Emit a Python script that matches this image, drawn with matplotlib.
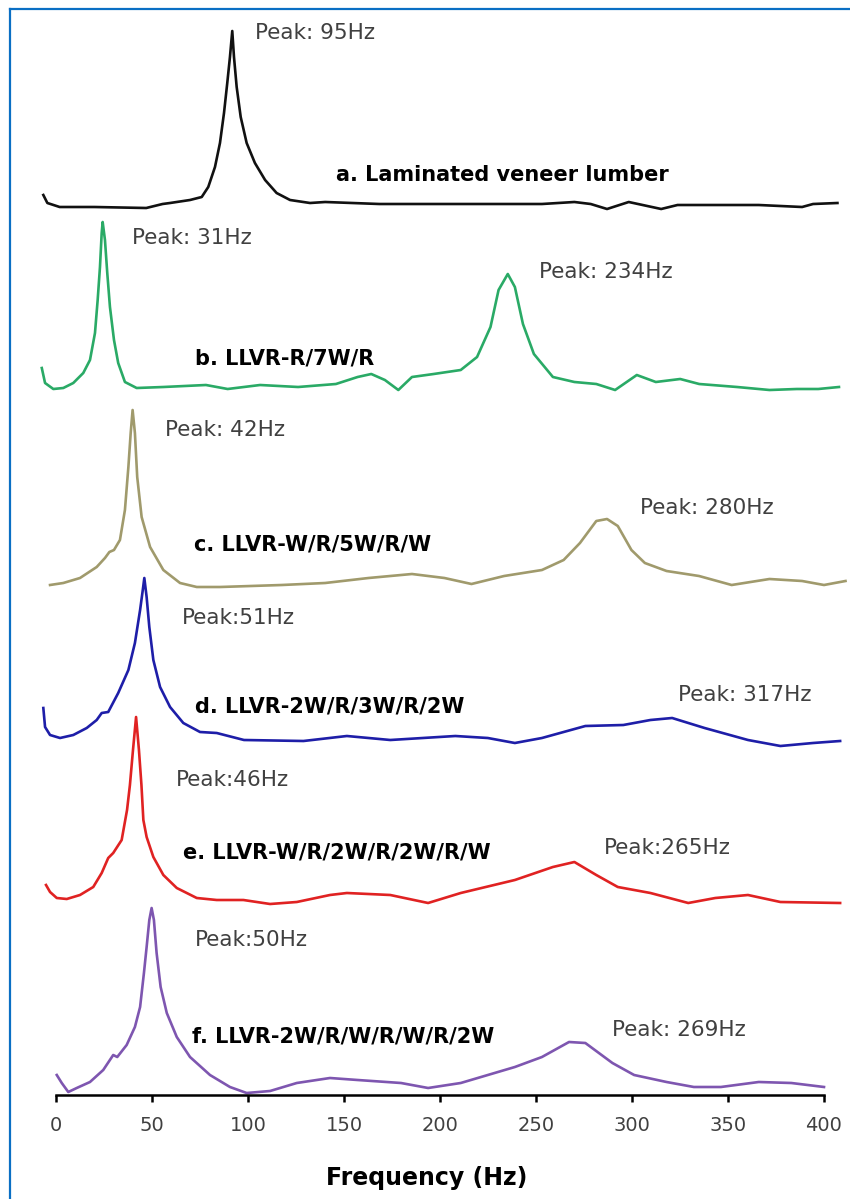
import matplotlib
matplotlib.use("Agg")
import matplotlib.pyplot as plt
from matplotlib.lines import Line2D

# ---- data (frequency in Hz, relative amplitude) ----
freq_a = [-6.6, -4.5, 1.9, 20, 47, 55.5, 59.4, 69.8, 75.9, 79.3, 82.8, 85.4, 87.5, 89.2, 90.6, 91.8,
          92.7, 94.1, 96.2, 99.3, 103.6, 108.9, 114.9, 121.9, 132.3, 140.2, 168.4, 196.7, 224.9,
          253.1, 270, 278.5, 287, 298.3, 315.2, 323.7, 366, 388.6, 394.3, 407]
amp_a = [12, 4, 0, 0, -1, 3, 4, 7, 10, 20, 40, 64, 94, 124, 150, 176,
         150, 120, 90, 64, 44, 27, 14, 7, 4, 5, 3, 3, 3,
         3, 5, 3, -2, 5, -2, 2, 2, 0, 3, 4]

freq_b = [-7.4, -5.7, -1.4, 3.8, 9.0, 14.2, 17.7, 20.3, 21.7, 22.9, 23.8, 24.3, 25.5, 26.7, 28.1,
          30.2, 32.4, 35.9, 42.0, 55.9, 78.1, 89.4, 106.3, 126.1, 145.8, 157.1, 164.2, 171.3,
          178.3, 185.4, 196.7, 210.8, 219.3, 226.3, 230.5, 235.3, 239, 243.2, 248.9, 258.8,
          270, 281.4, 291.2, 302.5, 312.4, 325.1, 335, 354.7, 371.6, 385.8, 397, 407.8]
amp_b = [19, 4, -2, -1, 4, 14, 27, 54, 87, 120, 154, 165, 147, 114, 80,
         47, 24, 5, -1, 0, 2, -2, 2, 0, 3, 10, 13, 7,
         -3, 10, 13, 17, 30, 60, 97, 113, 100, 63, 33, 10,
         5, 3, -3, 12, 5, 8, 3, 0, -3, -2, -2, 0]

freq_c = [-3.1, 3.8, 12.5, 21.2, 25.5, 27.8, 30.2, 33.3, 35.9, 37.7, 38.9, 39.9, 41.1, 42.3,
          44.6, 49.0, 55.9, 64.6, 73.3, 85.4, 117.6, 140.2, 162.8, 185.4, 202.3, 216.4, 233.4,
          253.1, 264.4, 272.9, 281.4, 287, 292.6, 299.7, 306.7, 318, 334.9, 351.9, 371.6,
          388.6, 400, 411.2]
amp_c = [-2, 0, 5, 16, 25, 31, 33, 43, 73, 116, 150, 173, 150, 106,
         66, 36, 13, 0, -4, -4, -2, 0, 5, 9, 5, -1, 7,
         13, 23, 40, 62, 64, 57, 33, 20, 12, 7, -2, 4,
         2, -2, 2]

freq_d = [-6.6, -5.7, -3.1, 2.1, 9.0, 16.0, 21.2, 23.8, 27.2, 32.4, 37.7, 41.1, 43.8, 45.2, 46.0,
          47.2, 48.6, 50.7, 54.2, 59.4, 66.3, 75.0, 83.7, 97.9, 128.9, 151.5, 174.1, 208,
          224.9, 239, 253.1, 275.7, 295.5, 309.6, 320.9, 337.8, 360.4, 377.3, 394.3, 408.4]
amp_d = [30, 11, 3, 0, 3, 10, 18, 25, 26, 45, 68, 95, 128, 148, 160,
         141, 111, 78, 51, 31, 15, 6, 5, -2, -3, 2, -2, 2,
         0, -5, 0, 12, 13, 18, 20, 10, -2, -8, -5, -3]

freq_e = [-5.2, -3.1, 0.4, 5.6, 12.5, 19.4, 23.8, 27.2, 29.8, 34.2, 37.0, 38.5, 40.1, 41.7, 43.2,
          44.5, 45.5, 47.2, 50.7, 55.9, 62.9, 73.3, 83.7, 97.6, 111.5, 125.4, 142.7, 151.5,
          174.1, 193.8, 210.8, 239, 258.8, 270, 281.4, 292.6, 309.6, 329.3, 343.4, 360.4,
          377.3, 408.4]
amp_e = [15, 8, 2, 1, 5, 13, 27, 42, 47, 60, 90, 115, 150, 183, 150,
         115, 80, 63, 43, 25, 12, 2, 0, 0, -4, -2, 5, 7,
         5, -3, 7, 20, 33, 38, 25, 13, 7, -3, 2, 5,
         -2, -3]

freq_f = [0.4, 3.0, 6.4, 10.8, 17.7, 24.6, 29.8, 31.9, 36.8, 41.1, 43.8, 45.8, 47.2, 48.6, 49.8,
          51.0, 52.4, 54.5, 57.7, 62.9, 69.8, 80.2, 90.6, 99.3, 111.5, 125.4, 142.7, 157.1,
          179.7, 193.8, 210.8, 239, 253.1, 267.2, 275.7, 289.8, 301.1, 318, 332.2, 346.3,
          366, 383, 400]
amp_f = [18, 10, 1, 5, 11, 23, 38, 36, 48, 66, 86, 120, 146, 173, 185,
         173, 140, 106, 80, 56, 36, 18, 6, 0, 2, 10, 15, 13,
         10, 5, 10, 26, 36, 51, 50, 30, 18, 11, 6, 6,
         11, 10, 6]

series_names = ["a. Laminated veneer lumber", "b. LLVR-R/7W/R", "c. LLVR-W/R/5W/R/W",
                "d. LLVR-2W/R/3W/R/2W", "e. LLVR-W/R/2W/R/2W/R/W", "f. LLVR-2W/R/W/R/W/R/2W"]
x_ticks = [0, 50, 100, 150, 200, 250, 300, 350, 400]

# ---- layout / style ----
W, H = 850, 1199
AX_L, AX_R, AX_B, AX_T = 20, 848, 1095, 15   # pixel bounds of axes
X0, PXHZ = 56, 1.92                          # px of 0 Hz, px per Hz

def hz(px):
    return (px - X0) / PXHZ

def yy(py):
    return AX_B - py

fig = plt.figure(figsize=(W / 100, H / 100), dpi=100)
ax = fig.add_axes([AX_L / W, (H - AX_B) / H, (AX_R - AX_L) / W, (AX_B - AX_T) / H])
ax.set_xlim(hz(AX_L), hz(AX_R))
ax.set_ylim(0, AX_B - AX_T)

curves = [(freq_a, amp_a, "#111111", 888),
          (freq_b, amp_b, "#2aaa66", 708),
          (freq_c, amp_c, "#a09a6c", 512),
          (freq_d, amp_d, "#1e1ea8", 357),
          (freq_e, amp_e, "#e02222", 195),
          (freq_f, amp_f, "#7e56b0", 2)]
for fx, fy, col, off in curves:
    ax.plot(fx, [v + off for v in fy], color=col, lw=1.9, solid_joinstyle="round")

peak_col = "#404040"
peak_fs = 15.5
name_fs = 15
peak_labels = [("Peak: 95Hz", 255, 33), ("Peak: 31Hz", 132, 238), ("Peak: 234Hz", 539, 272),
               ("Peak: 42Hz", 165, 430), ("Peak: 280Hz", 640, 508), ("Peak:51Hz", 182, 618),
               ("Peak: 317Hz", 678, 695), ("Peak:46Hz", 176, 780), ("Peak:265Hz", 604, 848),
               ("Peak:50Hz", 195, 940), ("Peak: 269Hz", 612, 1030)]
for t, px, py in peak_labels:
    ax.text(hz(px), yy(py), t, fontsize=peak_fs, color=peak_col, ha="left", va="center")

name_pos = [(336, 175), (195, 358), (194, 545), (195, 707), (183, 852), (192, 1037)]
for name, (px, py) in zip(series_names, name_pos):
    ax.text(hz(px), yy(py), name, fontsize=name_fs, color="black", fontweight="bold",
            ha="left", va="center")

for s in ["top", "right", "left"]:
    ax.spines[s].set_visible(False)
ax.spines["bottom"].set_bounds(0, 400)
ax.spines["bottom"].set_linewidth(1.8)
ax.spines["bottom"].set_color("black")
ax.set_yticks([])
ax.set_xticks(x_ticks)
ax.set_xticklabels([str(v) for v in x_ticks])
ax.tick_params(axis="x", direction="out", length=5, width=1.8, color="black",
               labelsize=14, labelcolor=peak_col, pad=10)

ax.set_xlabel("Frequency (Hz)", fontsize=17, fontweight="bold", color="black")
ax.xaxis.set_label_coords((427 - AX_L) / (AX_R - AX_L), -(1178 - AX_B) / (AX_B - AX_T))
ax.xaxis.label.set_va("center")

# blue frame
bc = "#0a6fc4"
fig.add_artist(Line2D([10 / W, 10 / W], [0, 1 - 9 / H], color=bc, lw=1.6, transform=fig.transFigure))
fig.add_artist(Line2D([10 / W, 1], [1 - 9 / H, 1 - 9 / H], color=bc, lw=1.6, transform=fig.transFigure))

fig.savefig("out.png", dpi=100)
